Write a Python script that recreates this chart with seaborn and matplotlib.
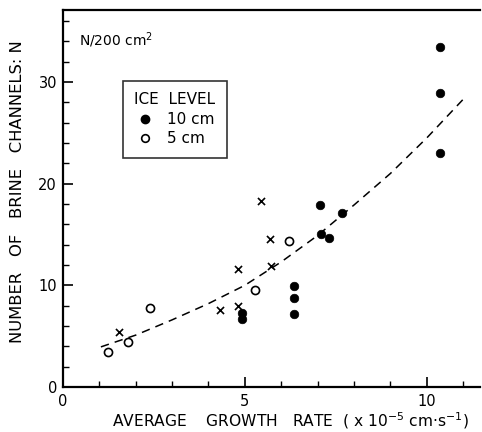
import matplotlib
matplotlib.use("Agg")
import matplotlib.pyplot as plt
import seaborn as sns
import pandas as pd
from matplotlib.lines import Line2D
from matplotlib.ticker import MultipleLocator

# ice level 10 cm (filled circles)
rate_10 = [10.37, 10.37, 10.37, 7.07, 7.68, 7.09, 7.31, 6.35, 6.35, 6.35, 4.93, 4.93]
n_10 = [33.4, 28.9, 23.0, 17.9, 17.1, 15.0, 14.7, 9.9, 8.8, 7.15, 7.25, 6.7]

# ice level 5 cm (open circles)
rate_5 = [1.25, 1.80, 2.40, 5.28, 6.22]
n_5 = [3.4, 4.4, 7.8, 9.5, 14.4]

# crosses
rate_x = [1.55, 4.33, 4.82, 4.82, 5.45, 5.68, 5.71]
n_x = [5.4, 7.6, 8.0, 11.6, 18.3, 14.6, 11.9]

# dashed trend curve
curve_rate = [1.05, 2.0, 3.0, 4.0, 5.0, 6.0, 7.0, 8.0, 9.0, 10.0, 11.0]
curve_n = [3.95, 5.1, 6.6, 8.2, 10.0, 12.3, 14.9, 17.9, 21.0, 24.5, 28.3]

sns.set_style("ticks", rc={'text.color': 'black', 'axes.labelcolor': 'black',
                           'xtick.color': 'black', 'ytick.color': 'black'})
plt.rcParams['font.family'] = ['DejaVu Sans']

fig = plt.figure(figsize=(4.82, 4.32), dpi=100)
ax = fig.add_axes([0.130, 0.104, 0.866, 0.873])

curve = pd.DataFrame({'rate': curve_rate, 'n': curve_n})
sns.lineplot(data=curve, x='rate', y='n', ax=ax, color='black', lw=1.1,
             linestyle=(0, (5.5, 4.0)), sort=True)

sns.scatterplot(x=rate_10, y=n_10, ax=ax, marker='o', s=38, color='black',
                edgecolor='black', linewidth=0.5, legend=False, zorder=3)
sns.scatterplot(x=rate_5, y=n_5, ax=ax, marker='o', s=34, facecolor='white',
                edgecolor='black', linewidth=1.2, legend=False, zorder=3)
sns.scatterplot(x=rate_x, y=n_x, ax=ax, marker='x', s=26, color='black',
                linewidth=1.2, legend=False, zorder=3)

ax.set_xlim(0, 11.46)
ax.set_ylim(0, 37.07)
ax.xaxis.set_major_locator(MultipleLocator(5))
ax.xaxis.set_minor_locator(MultipleLocator(1))
ax.yaxis.set_major_locator(MultipleLocator(10))
ax.yaxis.set_minor_locator(MultipleLocator(2))
ax.tick_params(which='major', direction='in', length=7, width=1.2, labelsize=10.5,
               colors='black', pad=5)
ax.tick_params(which='minor', direction='in', length=4, width=1.0, colors='black')
ax.tick_params(axis='y', which='major', pad=4)

for side in ['left', 'bottom', 'top']:
    ax.spines[side].set_linewidth(1.6)
    ax.spines[side].set_color('black')
ax.spines['right'].set_visible(False)

ax.set_xlabel('AVERAGE    GROWTH   RATE  ( x 10$^{-5}$ cm$\\cdot$s$^{-1}$)',
              fontsize=11.2, color='black')
ax.xaxis.set_label_coords(0.545, -0.09)
ax.xaxis.label.set_va('center')
ax.set_ylabel('NUMBER   OF   BRINE   CHANNELS: N', fontsize=11.8, color='black')
ax.yaxis.set_label_coords(-0.107, 0.517)
ax.yaxis.label.set_va('center')

ax.text(0.04, 0.92, 'N/200 cm$^2$', transform=ax.transAxes, fontsize=10,
        va='center', ha='left', color='black')

handles = [
    Line2D([], [], marker='o', ls='none', color='black', markersize=6),
    Line2D([], [], marker='o', ls='none', markerfacecolor='white',
           markeredgecolor='black', markersize=5.5, markeredgewidth=1.2),
]
leg = ax.legend(handles, ['10 cm', '5 cm'], title='ICE  LEVEL', loc='upper left',
                bbox_to_anchor=(0.144, 0.812), borderaxespad=0, fancybox=False,
                frameon=True, fontsize=11, title_fontsize=11,
                handletextpad=0.8, handlelength=1.3, borderpad=0.75,
                labelspacing=0.3, labelcolor='black')
leg.get_title().set_color('black')
leg.get_frame().set_edgecolor('black')
leg.get_frame().set_linewidth(1.2)

fig.savefig('out.png', dpi=100)
